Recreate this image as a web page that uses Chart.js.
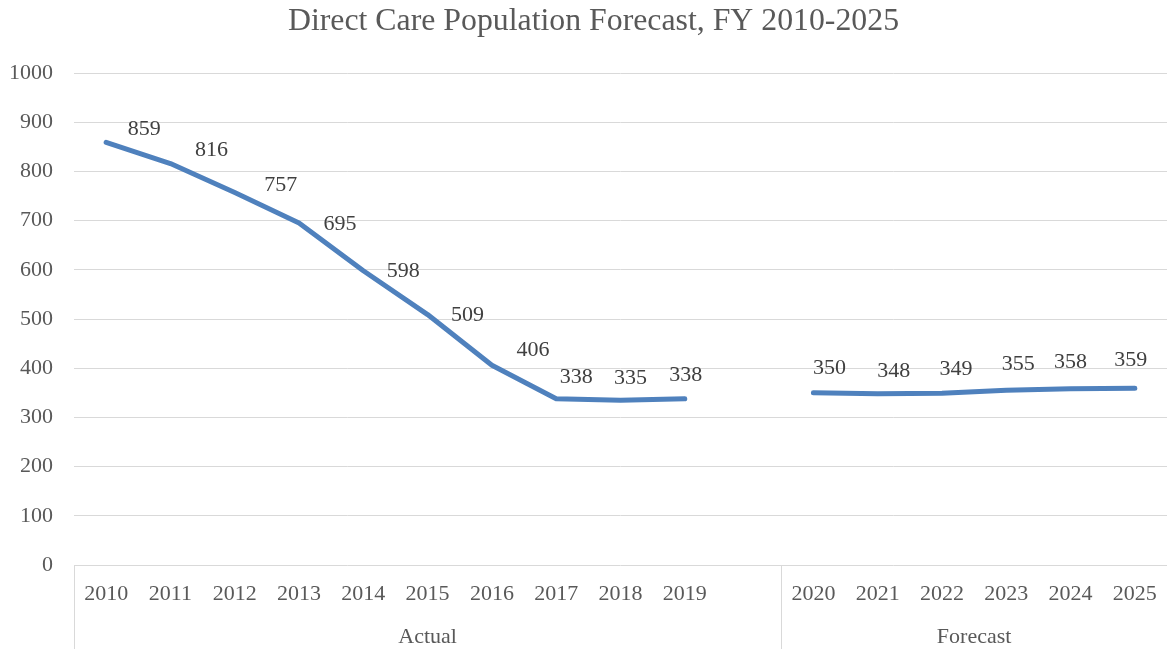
<!DOCTYPE html>
<html>
<head>
<meta charset="utf-8">
<script src="https://cdn.jsdelivr.net/npm/chart.js@4.4.0/dist/chart.umd.min.js"></script>
<style>
  html, body { margin: 0; padding: 0; background: #fff; }
  #wrap { width: 1167px; height: 649px; }
</style>
</head>
<body>
<div id="wrap"><canvas id="popChart"></canvas></div>
<script>
// categories (blank slot separates actual from forecast)
const years = ["2010", "2011", "2012", "2013", "2014", "2015", "2016", "2017", "2018", "2019", "",
  "2020", "2021", "2022", "2023", "2024", "2025"];
const population = [859, 816, 757, 695, 598, 509, 406, 338, 335, 338, null,
  350, 348, 349, 355, 358, 359];
const yTicks = [0, 100, 200, 300, 400, 500, 600, 700, 800, 900, 1000];
const groupNames = ["Actual", "Forecast"];
const groupFirst = [0, 11];
const groupLast = [10, 16];
const chartTitle = "Direct Care Population Forecast, FY 2010-2025";

// label placement relative to each point (style only)
const labelDx = [38, 41, 46, 41, 40, 40, 41, 20, 10, 1, 0, 16, 16, 14, 12, 0, -4];
const labelDy = [-13, -13, -7, 1, 0, 1, -15, -21, -22, -23, 0, -25, -23, -24, -26, -27, -28];

const serif = "'Liberation Serif', 'Times New Roman', serif";

const titleText = {
  id: "titleText",
  afterDraw(chart) {
    const ctx = chart.ctx;
    ctx.save();
    ctx.font = "31.8px " + serif;
    ctx.fillStyle = "#595959";
    ctx.textAlign = "center";
    ctx.textBaseline = "middle";
    ctx.fillText(chartTitle, chart.width / 2 + 10, 22);
    ctx.restore();
  }
};

const pointLabels = {
  id: "pointLabels",
  afterDatasetsDraw(chart) {
    const ctx = chart.ctx;
    const meta = chart.getDatasetMeta(0);
    ctx.save();
    ctx.font = "22px " + serif;
    ctx.fillStyle = "#404040";
    ctx.textAlign = "center";
    ctx.textBaseline = "middle";
    meta.data.forEach(function (pt, i) {
      const v = population[i];
      if (v === null || pt.skip) return;
      ctx.fillText(String(v), pt.x + labelDx[i], pt.y + labelDy[i]);
    });
    ctx.restore();
  }
};

const groupAxis = {
  id: "groupAxis",
  afterDraw(chart) {
    const ctx = chart.ctx;
    const x = chart.scales.x;
    const area = chart.chartArea;
    const half = (x.getPixelForValue(1) - x.getPixelForValue(0)) / 2;
    ctx.save();
    ctx.strokeStyle = "#d9d9d9";
    ctx.lineWidth = 1;
    ctx.font = "22px " + serif;
    ctx.fillStyle = "#595959";
    ctx.textAlign = "center";
    ctx.textBaseline = "middle";
    groupNames.forEach(function (name, g) {
      const left = x.getPixelForValue(groupFirst[g]) - half;
      const right = x.getPixelForValue(groupLast[g]) + half;
      ctx.beginPath();
      ctx.moveTo(Math.round(left) + 0.5, area.bottom);
      ctx.lineTo(Math.round(left) + 0.5, chart.height);
      ctx.stroke();
      ctx.fillText(name, (left + right) / 2, area.bottom + 72);
    });
    ctx.restore();
  }
};

new Chart(document.getElementById("popChart").getContext("2d"), {
  type: "line",
  data: {
    labels: years,
    datasets: [
      {
        label: "Direct Care Population",
        data: population,
        borderColor: "#4f81bd",
        backgroundColor: "#4f81bd",
        borderWidth: 5,
        borderCapStyle: "round",
        borderJoinStyle: "round",
        pointRadius: 0,
        tension: 0,
        spanGaps: false,
      },
    ],
  },
  options: {
    responsive: true,
    maintainAspectRatio: false,
    animation: false,
    layout: { padding: { left: 0, right: 0, top: 73, bottom: 0 } },
    plugins: {
      legend: { display: false },
      tooltip: { enabled: false },
      title: { display: false },
    },
    scales: {
      x: {
        offset: true,
        grid: { display: false, drawTicks: false },
        border: { display: false },
        ticks: {
          color: "#595959",
          font: { family: serif, size: 22 },
          padding: 16,
          maxRotation: 0,
          autoSkip: false,
        },
        afterFit(scale) {
          scale.height = 84;
          scale.paddingLeft = 0;
          scale.paddingRight = 0;
        },
      },
      y: {
        min: 0,
        max: 1000,
        afterBuildTicks(scale) { scale.ticks = yTicks.map(function (v) { return { value: v }; }); },
        grid: { color: "#d9d9d9", lineWidth: 1, drawTicks: false },
        border: { display: false },
        ticks: {
          color: "#595959",
          font: { family: serif, size: 22 },
          padding: 21,
          callback: function (v) { return String(v); },
        },
        afterFit(scale) {
          scale.width = 74;
          scale.paddingTop = 0;
          scale.paddingBottom = 0;
        },
      },
    },
  },
  plugins: [titleText, pointLabels, groupAxis],
});
</script>
</body>
</html>
